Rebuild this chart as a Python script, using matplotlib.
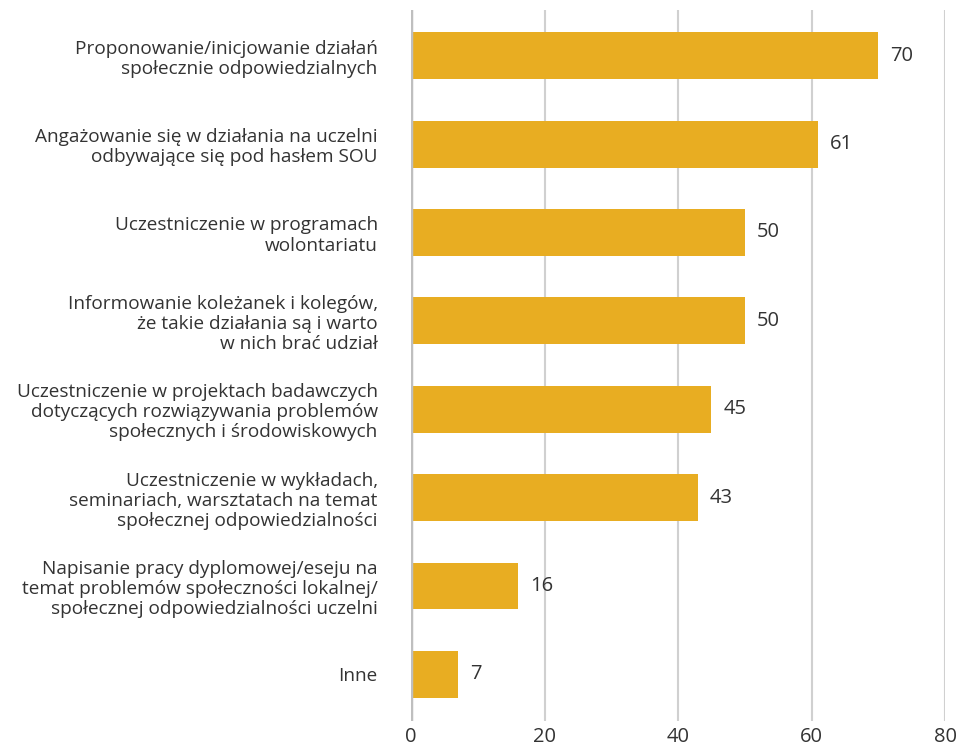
import matplotlib.pyplot as plt

# Formy zaangażowania studentów w działania SOU (%)
kategorie = [
    "Proponowanie/inicjowanie działań\nspołecznie odpowiedzialnych",
    "Angażowanie się w działania na uczelni\nodbywające się pod hasłem SOU",
    "Uczestniczenie w programach\nwolontariatu",
    "Informowanie koleżanek i kolegów,\nże takie działania są i warto\nw nich brać udział",
    "Uczestniczenie w projektach badawczych\ndotyczących rozwiązywania problemów\nspołecznych i środowiskowych",
    "Uczestniczenie w wykładach,\nseminariach, warsztatach na temat\nspołecznej odpowiedzialności",
    "Napisanie pracy dyplomowej/eseju na\ntemat problemów społeczności lokalnej/\nspołecznej odpowiedzialności uczelni",
    "Inne",
]
wartosci = [70, 61, 50, 50, 45, 43, 16, 7]

plt.rcParams['font.family'] = ['Open Sans', 'DejaVu Sans']
kolor = "#E8AD22"
tekst = "#333333"

fig = plt.figure(figsize=(9.71, 7.52), dpi=100)
ax = fig.add_axes([0.4233, 0.041, 0.55, 0.946])

y = range(len(kategorie))
ax.barh(y, wartosci, height=0.53, color=kolor, zorder=3)
for i, v in enumerate(wartosci):
    ax.text(v + 1.8, i, str(v), va='center', ha='left', fontsize=14.5, color=tekst)

ax.set_xlim(0, 80)
ax.set_ylim(len(kategorie) - 0.47, -0.52)
ax.set_xticks([0, 20, 40, 60, 80])
ax.set_yticks(list(y))
ax.set_yticklabels(kategorie, fontsize=13.7, color=tekst, linespacing=1.15)
ax.tick_params(axis='y', length=0, pad=24)
ax.tick_params(axis='x', length=0, pad=4, labelsize=14.5, labelcolor=tekst)

ax.grid(axis='x', color='#d0d0d0', linewidth=1.5, zorder=0)
for s in ['top', 'right', 'bottom', 'left']:
    ax.spines[s].set_visible(False)
ax.axvline(0, color='#bfbfbf', linewidth=2.5, zorder=4)

fig.savefig("out.png", dpi=100)
